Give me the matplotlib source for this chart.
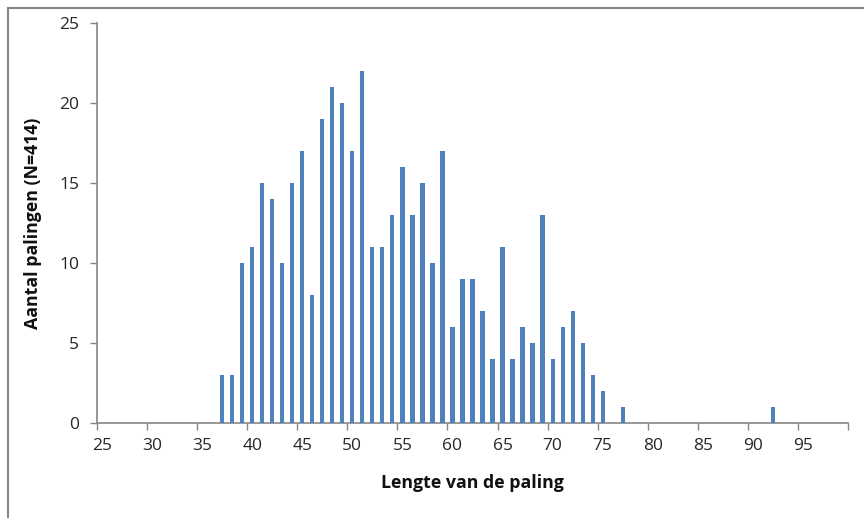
import numpy as np
import matplotlib.pyplot as plt
from matplotlib.patches import Rectangle

# lengte (cm) en aantal palingen per klasse
lengths = list(range(37, 78)) + [92]
counts = [3, 3, 10, 11, 15, 14, 10, 15, 17, 8,
          19, 21, 20, 17, 22, 11, 11, 13, 16, 13,
          15, 10, 17, 6, 9, 9, 7, 4, 11, 4,
          6, 5, 13, 4, 6, 7, 5, 3, 2, 0,
          1, 1]
x_labels = list(range(25, 100, 5))
y_ticks = [0, 5, 10, 15, 20, 25]

plt.rcParams["font.family"] = ["Open Sans", "DejaVu Sans"]

fig = plt.figure(figsize=(8.64, 5.18), dpi=100)
ax = fig.add_axes([97 / 864, 1 - 423 / 518, 751 / 864, 400 / 518])

ax.bar(lengths, counts, width=0.42, color="#4F81BD", edgecolor="none", zorder=3)

ax.set_xlim(24.5, 99.5)
ax.set_ylim(0, 25)

# category style axis: tick marks on boundaries, labels on categories
ax.set_xticks(np.arange(24.5, 100, 5))
ax.set_xticklabels([])
ax.set_xticks(x_labels, minor=True)
ax.set_xticklabels([str(v) for v in x_labels], minor=True)
ax.tick_params(axis="x", which="major", direction="out", length=5,
               color="#868686", width=1)
ax.tick_params(axis="x", which="minor", length=0, pad=11,
               labelsize=12.5, labelcolor="#262626")

ax.set_yticks(y_ticks)
ax.tick_params(axis="y", direction="out", length=5, color="#868686",
               width=1, pad=8, labelsize=12.5, labelcolor="#262626")

for side in ["top", "right"]:
    ax.spines[side].set_visible(False)
for side in ["left", "bottom"]:
    ax.spines[side].set_color("#868686")
    ax.spines[side].set_linewidth(1.2)

ax.set_xlabel("Lengte van de paling", fontsize=12.8, fontweight="bold",
              labelpad=14, color="#111111")
ax.set_ylabel("Aantal palingen (N=414)", fontsize=12.8, fontweight="bold",
              labelpad=12, color="#111111")

# outer chart border (partly cropped in the original)
fig.patches.append(Rectangle((8 / 864, -0.05), 1.1, 1 - 8 / 518 + 0.05,
                             transform=fig.transFigure, fill=False,
                             edgecolor="#868686", linewidth=1.5))

fig.savefig("out.png", dpi=100)
